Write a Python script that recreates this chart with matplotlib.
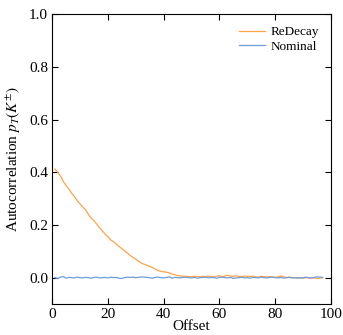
import matplotlib
matplotlib.use("Agg")
import matplotlib.pyplot as plt
import numpy as np

plt.rcParams['font.family'] = ['Liberation Serif', 'DejaVu Serif']
plt.rcParams['mathtext.fontset'] = 'stix'

offsets = list(range(1, 98))
redecay = [0.412, 0.400, 0.385, 0.365, 0.350, 0.337, 0.320, 0.308, 0.292, 0.280,
           0.268, 0.257, 0.240, 0.226, 0.216, 0.203, 0.189, 0.178, 0.165, 0.155,
           0.143, 0.136, 0.128, 0.118, 0.110, 0.102, 0.093, 0.084, 0.077, 0.070,
           0.062, 0.055, 0.051, 0.047, 0.043, 0.038, 0.032, 0.027, 0.024, 0.022,
           0.021, 0.018, 0.014, 0.011, 0.008, 0.006, 0.005, 0.005, 0.004, 0.004,
           0.005, 0.004, 0.003, 0.005, 0.004, 0.006, 0.004, 0.003, 0.006, 0.007,
           0.004, 0.006, 0.009, 0.006, 0.005, 0.007, 0.005, 0.004, 0.006, 0.005,
           0.004, 0.006, 0.003, 0.002, 0.005, 0.004, 0.003, 0.004, 0.002, 0.001,
           0.003, 0.006, 0.004, 0.000, 0.002, 0.001, -0.001, 0.001, 0.000, -0.002,
           0.000, -0.001, -0.002, -0.001, -0.003, -0.002, 0.000]
nominal = [0.000, -0.003, 0.002, 0.004, -0.002, 0.001, 0.000, -0.001, 0.002, 0.000,
           -0.001, 0.001, 0.000, -0.002, 0.001, 0.002, -0.001, 0.000, 0.001, -0.001,
           0.002, 0.000, 0.001, -0.002, -0.003, 0.000, 0.002, 0.001, 0.002, 0.000,
           0.001, 0.003, 0.002, 0.001, 0.000, -0.002, 0.001, 0.002, 0.000, -0.001,
           0.001, 0.003, -0.002, 0.001, 0.000, -0.001, 0.001, 0.002, 0.000, -0.001,
           0.001, -0.002, 0.000, 0.001, 0.002, -0.001, 0.001, 0.000, -0.002, 0.001,
           0.002, 0.000, -0.001, 0.001, -0.003, -0.001, 0.000, 0.002, -0.001, 0.000,
           -0.002, 0.001, 0.000, -0.001, 0.002, 0.000, -0.001, 0.001, 0.002, 0.000,
           -0.001, 0.001, -0.002, 0.000, 0.001, -0.001, 0.000, -0.002, -0.001, 0.000,
           0.002, 0.000, -0.001, 0.001, 0.003, 0.002, 0.001]

fig = plt.figure(figsize=(3.43, 3.35), dpi=100)
ax = fig.add_axes([0.152, 0.0925, 0.813, 0.8655])
ax.plot(offsets, redecay, color='#ffa347', lw=0.9, label='ReDecay')
ax.plot(offsets, nominal, color='#6f9ddc', lw=0.9, label='Nominal')
ax.set_xlim(0, 100)
ax.set_ylim(-0.1, 1.0)
ax.set_xticks([0, 20, 40, 60, 80, 100])
ax.set_yticks([0.0, 0.2, 0.4, 0.6, 0.8, 1.0])
ax.tick_params(direction='in', top=True, right=True, length=4.3, width=0.8,
               labelsize=11, pad=3)
ax.set_xlabel('Offset', fontsize=11, labelpad=-1)
ax.set_ylabel(r'Autocorrelation $p_T(K^{\pm})$', fontsize=11, labelpad=4)
ax.legend(loc='upper right', frameon=False, fontsize=9.5, handlelength=2.0,
          labelspacing=0.2, borderaxespad=0.5, borderpad=0.4,
          handletextpad=0.4)
fig.savefig('out.png', dpi=100)
